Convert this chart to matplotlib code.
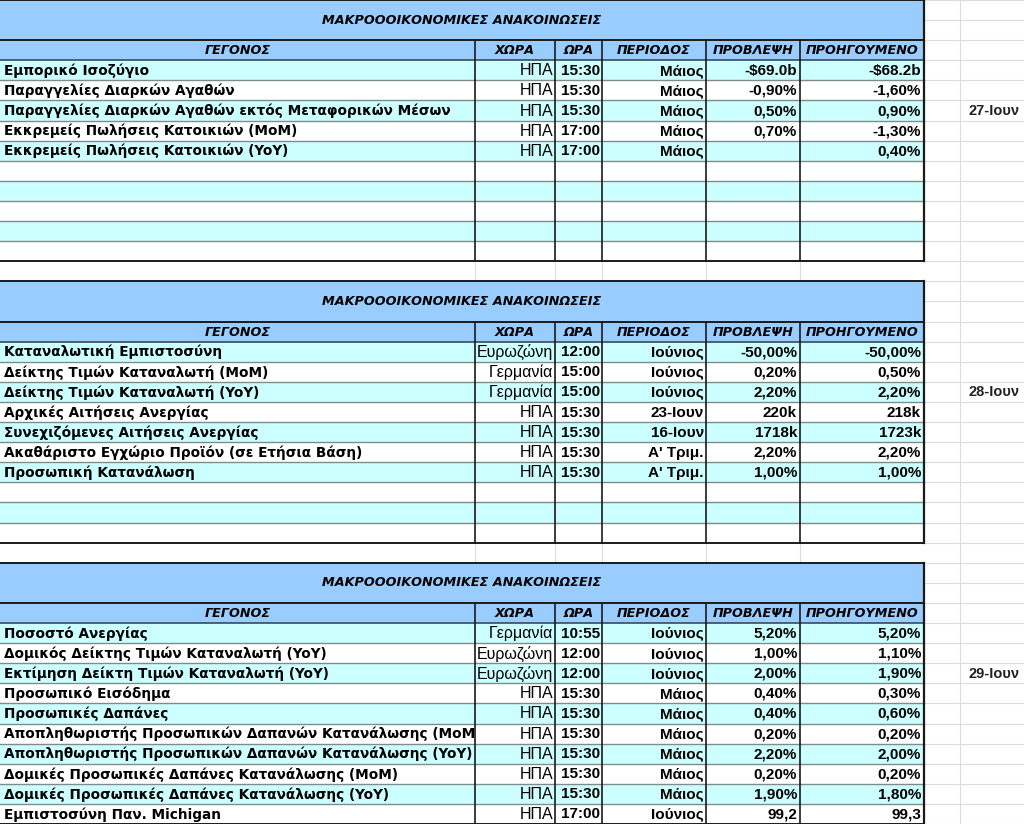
import matplotlib
matplotlib.use("Agg")
import matplotlib.pyplot as plt
from matplotlib.patches import Rectangle
from matplotlib.transforms import Bbox, TransformedBbox

# ---- data ----
title = "ΜΑΚΡΟΟΟΙΚΟΝΟΜΙΚΕΣ ΑΝΑΚΟΙΝΩΣΕΙΣ"
headers = ["ΓΕΓΟΝΟΣ", "ΧΩΡΑ", "ΩΡΑ", "ΠΕΡΙΟΔΟΣ", "ΠΡΟΒΛΕΨΗ", "ΠΡΟΗΓΟΥΜΕΝΟ"]

dates = ["27-Ιουν", "28-Ιουν", "29-Ιουν"]

names1 = ["Εμπορικό Ισοζύγιο", "Παραγγελίες Διαρκών Αγαθών",
          "Παραγγελίες Διαρκών Αγαθών εκτός Μεταφορικών Μέσων",
          "Εκκρεμείς Πωλήσεις Κατοικιών (MoM)", "Εκκρεμείς Πωλήσεις Κατοικιών (YoY)"]
countries1 = ["ΗΠΑ", "ΗΠΑ", "ΗΠΑ", "ΗΠΑ", "ΗΠΑ"]
times1 = ["15:30", "15:30", "15:30", "17:00", "17:00"]
periods1 = ["Μάιος", "Μάιος", "Μάιος", "Μάιος", "Μάιος"]
forecast1 = ["-$69.0b", "-0,90%", "0,50%", "0,70%", ""]
previous1 = ["-$68.2b", "-1,60%", "0,90%", "-1,30%", "0,40%"]

names2 = ["Καταναλωτική Εμπιστοσύνη", "Δείκτης Τιμών Καταναλωτή (MoM)",
          "Δείκτης Τιμών Καταναλωτή (YoY)", "Αρχικές Αιτήσεις Ανεργίας",
          "Συνεχιζόμενες Αιτήσεις Ανεργίας", "Ακαθάριστο Εγχώριο Προϊόν (σε Ετήσια Βάση)",
          "Προσωπική Κατανάλωση"]
countries2 = ["Ευρωζώνη", "Γερμανία", "Γερμανία", "ΗΠΑ", "ΗΠΑ", "ΗΠΑ", "ΗΠΑ"]
times2 = ["12:00", "15:00", "15:00", "15:30", "15:30", "15:30", "15:30"]
periods2 = ["Ιούνιος", "Ιούνιος", "Ιούνιος", "23-Ιουν", "16-Ιουν", "Α' Τριμ.", "Α' Τριμ."]
forecast2 = ["-50,00%", "0,20%", "2,20%", "220k", "1718k", "2,20%", "1,00%"]
previous2 = ["-50,00%", "0,50%", "2,20%", "218k", "1723k", "2,20%", "1,00%"]

names3 = ["Ποσοστό Ανεργίας", "Δομικός Δείκτης Τιμών Καταναλωτή (YoY)",
          "Εκτίμηση Δείκτη Τιμών Καταναλωτή (YoY)", "Προσωπικό Εισόδημα",
          "Προσωπικές Δαπάνες", "Αποπληθωριστής Προσωπικών Δαπανών Κατανάλωσης (MoM)",
          "Αποπληθωριστής Προσωπικών Δαπανών Κατανάλωσης (YoY)",
          "Δομικές Προσωπικές Δαπάνες Κατανάλωσης (MoM)",
          "Δομικές Προσωπικές Δαπάνες Κατανάλωσης (YoY)", "Εμπιστοσύνη Παν. Michigan"]
countries3 = ["Γερμανία", "Ευρωζώνη", "Ευρωζώνη", "ΗΠΑ", "ΗΠΑ", "ΗΠΑ", "ΗΠΑ", "ΗΠΑ", "ΗΠΑ", "ΗΠΑ"]
times3 = ["10:55", "12:00", "12:00", "15:30", "15:30", "15:30", "15:30", "15:30", "15:30", "17:00"]
periods3 = ["Ιούνιος", "Ιούνιος", "Ιούνιος", "Μάιος", "Μάιος", "Μάιος", "Μάιος", "Μάιος", "Μάιος", "Ιούνιος"]
forecast3 = ["5,20%", "1,00%", "2,00%", "0,40%", "0,40%", "0,20%", "2,20%", "0,20%", "1,90%", "99,2"]
previous3 = ["5,20%", "1,10%", "1,90%", "0,30%", "0,60%", "0,20%", "2,00%", "0,20%", "1,80%", "99,3"]

sections = [
    (names1, countries1, times1, periods1, forecast1, previous1),
    (names2, countries2, times2, periods2, forecast2, previous2),
    (names3, countries3, times3, periods3, forecast3, previous3),
]

# ---- layout ----
W, H = 1024, 824
col_x = [0, 475, 555, 602, 706, 800, 924]
n_rows = 10
row_h = H / 41.0
title_blue = "#99CCFF"
cyan = "#CCFFFF"
sheet_grid = "#DADCE0"
dark = "#1a1a1a"
gray_line = "#7f8c8c"

fig = plt.figure(figsize=(W / 100, H / 100), dpi=100)
ax = fig.add_axes([0, 0, 1, 1])
ax.set_xlim(0, W)
ax.set_ylim(H, 0)
ax.axis("off")

name_font = dict(family="DejaVu Sans", fontweight="bold", fontsize=9.85)
head_font = dict(family="DejaVu Sans", fontweight="bold", style="italic", fontsize=9.2)
arial = "Liberation Sans"
num_font = dict(family=arial, fontweight="bold", fontsize=11)

# faint spreadsheet grid outside the tables
for r in range(42):
    ax.plot([col_x[-1], W], [r * row_h, r * row_h], color=sheet_grid, lw=0.8, zorder=0)
ax.plot([960, 960], [0, H], color=sheet_grid, lw=0.8, zorder=0)

for s, (names, countries, times, periods, fc, prev) in enumerate(sections):
    y0 = s * 14 * row_h
    # blank separator row below table
    if s < 2:
        yb = y0 + 13 * row_h
        for x in col_x[1:-1]:
            ax.plot([x, x], [yb, yb + row_h], color=sheet_grid, lw=0.8, zorder=0)

    # title band
    ax.add_patch(Rectangle((0, y0), col_x[-1], 2 * row_h, facecolor=title_blue, edgecolor="none"))
    ax.text(col_x[-1] / 2, y0 + row_h, title, ha="center", va="center", **head_font)

    # header row
    yh = y0 + 2 * row_h
    ax.add_patch(Rectangle((0, yh), col_x[-1], row_h, facecolor=title_blue, edgecolor="none"))
    for c, h in enumerate(headers):
        ax.text((col_x[c] + col_x[c + 1]) / 2, yh + row_h / 2 + 0.5, h,
                ha="center", va="center", **head_font)

    # data rows
    yd = yh + row_h
    for r in range(n_rows):
        y = yd + r * row_h
        if r % 2 == 0:
            ax.add_patch(Rectangle((0, y), col_x[-1], row_h, facecolor=cyan, edgecolor="none"))
        if r > 0:
            ax.plot([0, col_x[-1]], [y, y], color=gray_line, lw=1.0)
        if r < len(names):
            yc = y + row_h / 2 + 0.5
            t = ax.text(4, yc, names[r], ha="left", va="center", clip_on=True, **name_font)
            t.set_clip_box(TransformedBbox(Bbox([[0, y], [col_x[1] - 1, y + row_h]]),
                                           ax.transData))
            ax.text(col_x[2] - 2, yc, countries[r], ha="right", va="center",
                    family=arial, fontsize=11.5)
            ax.text(col_x[3] - 2, yc, times[r], ha="right", va="center", **num_font)
            ax.text(col_x[4] - 2, yc, periods[r], ha="right", va="center", **num_font)
            ax.text(col_x[5] - 3, yc, fc[r], ha="right", va="center", **num_font)
            ax.text(col_x[6] - 3, yc, prev[r], ha="right", va="center", **num_font)

    y_end = yd + n_rows * row_h
    # borders
    ax.plot([0, col_x[-1]], [y0, y0], color=dark, lw=1.4)
    ax.plot([0, col_x[-1]], [yh, yh], color=dark, lw=1.4)
    ax.plot([0, col_x[-1]], [yd, yd], color="#3a4a5a", lw=1.2)
    ax.plot([0, col_x[-1]], [y_end, y_end], color=dark, lw=1.4)
    ax.plot([col_x[-1], col_x[-1]], [y0, y_end], color=dark, lw=1.6)
    for x in col_x[1:-1]:
        ax.plot([x, x], [yh, y_end], color=dark, lw=1.2)

    # date label to the right
    ax.text(994, yd + 2.5 * row_h + 0.5, dates[s], ha="center", va="center",
            family=arial, fontweight="bold", fontsize=10.5, color="#222222")

fig.savefig("out.png", dpi=100, facecolor="white")
